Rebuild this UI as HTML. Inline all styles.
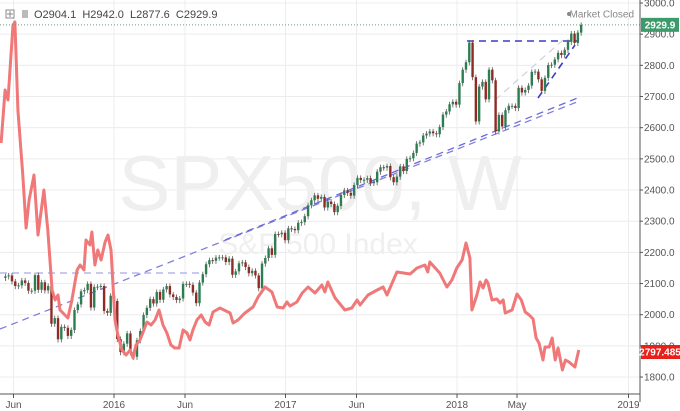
<!DOCTYPE html>
<html><head><meta charset="utf-8"><style>
body{margin:0;background:#fff;}
svg{display:block;font-family:"Liberation Sans",sans-serif;}
</style></head><body>
<svg id="c" width="680" height="411"></svg>
<script>
const closes=[2123,2126,2107,2092,2094,2110,2102,2077,2077,2127,2080,2104,2078,2092,1971,1989,1921,1961,1958,1932,1951,2015,2033,2075,2079,2099,2023,2089,2090,2092,2012,2006,2061,
2044,1922,1880,1907,1940,1880,1865,1918,1948,1999,2022,2050,2036,2073,2048,2081,2092,2065,2057,2047,2052,2099,2099,2096,2071,2037,2103,2130,2162,2175,2173,2183,2184,2184,2169,2180,2128,2139,2165,2168,2153,2133,2141,2126,2085,2164,2182,2213,2192,2259,2258,2263,2239,
2277,2275,2271,2295,2297,2316,2351,2367,2383,2372,2378,2344,2363,2355,2329,2349,2384,2399,2391,2382,2416,2439,2432,2433,2438,2423,2425,2459,2473,2472,2477,2441,2425,2443,2476,2461,2500,2502,2519,2549,2553,2575,2581,2588,2582,2579,2602,2642,2652,2675,2683,2674,
2743,2786,2810,2873,2762,2620,2732,2747,2691,2786,2752,2588,2641,2604,2656,2670,2670,2663,2728,2713,2721,2735,2779,2780,2755,2718,2760,2801,2802,2819,2840,2833,2850,2875,2902,2872,2905,2930];
const firstOpen=2118;
const redW=[-1.3,-0.1,0.8,2.3,2.9,3.8,5.3,6.3,7.2,8.7,9.9,11.7,12.9,14.2,15.1,16.0,16.6,17.5,19.0,20.2,21.8,22.7,23.9,24.5,25.7,26.3,27.2,28.1,29.1,30.3,31.2,32.1,33.3,34.2,35.4,36.7,37.9,38.8,39.7,40.9,42.1,43.0,44.3,45.5,46.7,47.9,49.1,50.3,51.5,52.8,54.0,55.2,56.1,57.0,58.2,59.5,60.7,61.9,63.1,65.2,68.3,69.2,70.7,72.8,75.3,76.8,78.9,81.0,82.6,84.4,85.6,86.5,88.6,90.2,92.0,94.1,96.2,97.1,98.0,100.2,103.2,105.3,106.9,107.8,110.2,113.0,114.8,116.0,119.0,123.0,125.1,127.5,128.4,129.0,132.0,134.2,135.7,137.2,138.8,140.0,141.2,141.8,143.3,144.3,145.2,146.1,146.7,147.9,149.4,150.3,151.3,151.9,154.0,155.5,156.8,158.0,159.2,160.4,161.3,162.2,163.4,164.0,165.3,166.2,167.1,168.0,169.3,170.2,171.3,173.1,174.3];
const redV=[257,310,300,375,378,290,225,172,200,225,165,210,170,110,100,105,90,87,82,100,130,135,130,160,155,168,135,150,140,158,165,150,80,65,50,45,50,42,55,60,70,78,75,80,90,75,67,55,52,52,70,67,60,70,80,85,78,75,88,92,87,77,80,87,93,103,113,108,93,92,98,94,98,107,113,107,115,108,118,102,90,92,100,95,105,110,113,105,128,126,132,135,128,138,127,113,120,132,140,157,142,90,105,118,112,120,117,100,101,97,100,87,90,106,100,88,85,81,62,57,40,53,53,62,40,52,30,40,38,33,50];
const priceTicks=[3000,2900,2800,2700,2600,2500,2400,2300,2200,2100,2000,1900,1800];
const timeLabels=["Jun","2016","Jun","2017","Jun","2018","May","2019"];
const timeYears=[2015.414,2016,2016.414,2017,2017.414,2018,2018.35,2019];

const NS="http://www.w3.org/2000/svg",svg=document.getElementById('c');
function el(t,a,p){const e=document.createElementNS(NS,t);for(const k in a)e.setAttribute(k,a[k]);(p||svg).appendChild(e);return e;}
const yP=p=>3+(3000-p)*0.3117;
const xW=w=>5.4+w*3.29;
const xY=t=>114+(t-2016)*171.5;
const yR=v=>400-v;
const PR=640,PB=394;

for(const p of priceTicks){const g=el('line',{x1:0,x2:PR,y1:yP(p),y2:yP(p),stroke:'#ececec'});
}
timeYears.forEach((t,i)=>{const g=el('line',{x1:xY(t),x2:xY(t),y1:0,y2:PB,stroke:'#ececec'});
});

let w1=el('text',{x:320,y:210,'font-size':78,fill:'#efefef','text-anchor':'middle'});w1.textContent='SPX500, W';

let w2=el('text',{x:318,y:254,'font-size':30,fill:'#efefef','text-anchor':'middle'});w2.textContent='S&P 500 Index';


const tl=[[0,273,200,273,'#a8a8e8',1.2],[0,329,577,102,'#8080dc',1.3],[225,240,580,97,'#6a6ad8',1.3],[467,41,577,41,'#3b3bc8',1.6],[538,98,575,45,'#3b3bc8',1.6],[495,100,563,40,'#c8c8d8',1]];
tl.forEach(a=>{const l=el('line',{x1:a[0],y1:a[1],x2:a[2],y2:a[3],stroke:a[4],'stroke-width':a[5],'stroke-dasharray':'7,5'});
});

let prev=firstOpen;
closes.forEach((c,i)=>{const o=prev;prev=c;const x=xW(i);
 const hi=Math.max(o,c)+8,lo=Math.min(o,c)-10;const up=c>=o;
 const g=el('g',{});
 el('line',{x1:x,x2:x,y1:yP(hi),y2:yP(lo),stroke:'#555','stroke-width':0.8},g);
 const t=yP(Math.max(o,c)),b=yP(Math.min(o,c));
 el('rect',{x:x-1.2,y:t,width:2.4,height:Math.max(1,b-t),fill:up?'#2e7d52':'#8f2a24'},g);
});

let d='';redW.forEach((w,i)=>{d+=(i?'L':'M')+xW(w).toFixed(1)+','+yR(redV[i]).toFixed(1);});
const rl=el('path',{d:d,fill:'none',stroke:'#f07878','stroke-width':3,'stroke-linejoin':'round'});


const lp=el('line',{x1:0,x2:PR,y1:yP(2929.9),y2:yP(2929.9),stroke:'#6a9a7a','stroke-dasharray':'1,2'});


el('rect',{x:PR,y:0,width:40,height:411,fill:'#fff'});
el('rect',{x:0,y:PB,width:680,height:17,fill:'#fff'});
const ax=el('line',{x1:PR,x2:PR,y1:0,y2:PB+8,stroke:'#555'});
const bx=el('line',{x1:0,x2:PR,y1:PB,y2:PB,stroke:'#555'});
priceTicks.forEach(p=>{el('line',{x1:PR,x2:PR+3,y1:yP(p),y2:yP(p),stroke:'#555'});
 const t=el('text',{x:PR+4,y:yP(p)+3.5,'font-size':10,fill:'#555'});t.textContent=p.toFixed(1);
 });
timeLabels.forEach((s,i)=>{const x=xY(timeYears[i]);el('line',{x1:x,x2:x,y1:PB,y2:PB+4,stroke:'#555'});
 const t=el('text',{x:x,y:408,'font-size':10,fill:'#555','text-anchor':'middle'});t.textContent=s;
 });

const gb=el('g',{});
el('rect',{x:641,y:yP(2929.9)-7,width:38,height:14,fill:'#3d9a6a'},gb);
let t=el('text',{x:660,y:yP(2929.9)+3.5,'font-size':10,'font-weight':'bold',fill:'#fff','text-anchor':'middle'},gb);t.textContent='2929.9';
const rb=el('g',{});
el('rect',{x:641,y:345,width:39,height:14,fill:'#e8201c'},rb);
t=el('text',{x:660,y:355.5,'font-size':10,'font-weight':'bold',fill:'#fff','text-anchor':'middle'},rb);t.textContent='2797.485';

const hb=el('rect',{x:6,y:10,width:8,height:8,fill:'#fff',stroke:'#888'});
el('line',{x1:10,x2:10,y1:11,y2:17,stroke:'#888'});el('line',{x1:7,x2:13,y1:14,y2:14,stroke:'#888'});
el('rect',{x:22,y:10,width:6,height:8,fill:'#bbb'});
t=el('text',{x:34,y:18,'font-size':11,fill:'#444'});t.textContent='O2904.1  H2942.0  L2877.6  C2929.9';
t.style.whiteSpace='pre';
el('circle',{cx:569,cy:14,r:2,fill:'#888'});
t=el('text',{x:634,y:17.5,'font-size':10,fill:'#888','text-anchor':'end'});t.textContent='Market Closed';

</script>
</body></html>
